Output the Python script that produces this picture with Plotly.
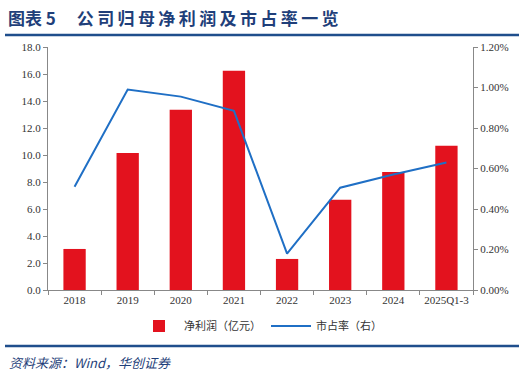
import plotly.graph_objects as go

categories = ["2018", "2019", "2020", "2021", "2022", "2023", "2024", "2025Q1-3"]
net_profit = [3.04, 10.15, 13.35, 16.25, 2.3, 6.68, 8.75, 10.68]
market_share = [0.0051, 0.0099, 0.00955, 0.00885, 0.0018, 0.00505, 0.0057, 0.0063]
left_ticks = [0, 2, 4, 6, 8, 10, 12, 14, 16, 18]
right_ticks = [0, 0.002, 0.004, 0.006, 0.008, 0.010, 0.012]

W, H = 524, 377
L, R, T, B = 48, 51, 47, 87
pw, ph = W - L - R, H - T - B

def px(x):
    return (x - L) / pw

def py(y):
    return (H - B - y) / ph

serif = "Liberation Serif, Times New Roman, serif"
cjk = "Noto Sans CJK SC"

fig = go.Figure()
fig.add_trace(go.Bar(x=categories, y=net_profit, name="净利润（亿元）",
                     marker=dict(color="#E3121E", line=dict(width=0)), width=0.42))
fig.add_trace(go.Scatter(x=categories, y=market_share, name="市占率（右）", yaxis="y2",
                         mode="lines", line=dict(color="#1F6FC5", width=2)))

fig.update_layout(
    width=W, height=H, margin=dict(l=L, r=R, t=T, b=B),
    paper_bgcolor="white", plot_bgcolor="white",
    showlegend=True,
    legend=dict(orientation="h", x=0.5, xanchor="center", y=py(326), yanchor="middle",
                font=dict(family=cjk, size=11, color="#333"), traceorder="normal",
                itemwidth=40),
    xaxis=dict(type="category", showline=True, linecolor="#888", linewidth=1,
               ticks="outside", tickson="boundaries", ticklen=4, tickcolor="#888",
               tickangle=0,
               tickfont=dict(family=serif, size=11, color="#333"), showgrid=False),
    yaxis=dict(range=[0, 18], tickvals=left_ticks, ticktext=[f"{v:.1f}" for v in left_ticks],
               showline=True, linecolor="#888", linewidth=1, ticks="outside", ticklen=4,
               tickcolor="#888", showgrid=False, zeroline=False,
               tickfont=dict(family=serif, size=11, color="#333")),
    yaxis2=dict(range=[0, 0.012], tickvals=right_ticks,
                ticktext=[f"{v*100:.2f}%" for v in right_ticks],
                overlaying="y", side="right", showline=True, linecolor="#888", linewidth=1,
                ticks="outside", ticklen=4, tickcolor="#888", showgrid=False, zeroline=False,
                tickfont=dict(family=serif, size=11, color="#333")),
    font=dict(family=serif),
)

title_chars = "公司归母净利润及市占率一览"
title = "图表\u00a05\u2003\u00a0" + "\u2009".join(title_chars)
fig.add_annotation(text=f"<b>{title}</b>", xref="paper", yref="paper",
                   x=px(6), y=py(18), xanchor="left", yanchor="middle", showarrow=False,
                   font=dict(family=cjk, size=17, color="#1F3F7A"))
fig.add_annotation(text="<i>资料来源：Wind，华创证券</i>", xref="paper", yref="paper",
                   x=px(7), y=py(362), xanchor="left", yanchor="middle", showarrow=False,
                   font=dict(family=cjk, size=13, color="#1F3F7A"))
for yy in (35, 346):
    fig.add_shape(type="line", xref="paper", yref="paper", x0=px(5), x1=px(519),
                  y0=py(yy), y1=py(yy), line=dict(color="#1F4E8C", width=2.5))

fig.write_html("out.html")
